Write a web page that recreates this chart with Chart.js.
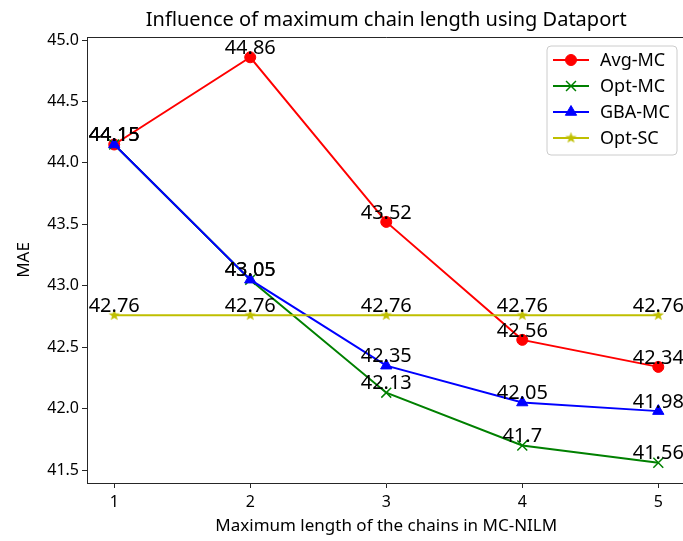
<!DOCTYPE html>
<html>
<head>
<meta charset="utf-8">
<script src="https://cdn.jsdelivr.net/npm/chart.js@4.4.0/dist/chart.umd.min.js"></script>
<style>
html,body{margin:0;padding:0;background:#fff;overflow:hidden;width:683px;height:541px;}
canvas{display:block;}
</style>
</head>
<body>
<canvas id="c" width="694" height="541"></canvas>
<script>
// ---- data ----
const categories = [1, 2, 3, 4, 5];
const avgMC = [44.15, 44.86, 43.52, 42.56, 42.34];
const optMC = [44.15, 43.05, 42.13, 41.7, 41.56];
const gbaMC = [44.15, 43.05, 42.35, 42.05, 41.98];
const optSC = [42.76, 42.76, 42.76, 42.76, 42.76];
const seriesNames = ['Avg-MC', 'Opt-MC', 'GBA-MC', 'Opt-SC'];
const yTicks = [41.5, 42.0, 42.5, 43.0, 43.5, 44.0, 44.5, 45.0];

const FONT = "'Noto Sans', 'Open Sans', sans-serif";
const AX = '#262626';

// filled five-point star marker
function makeStar(color, size) {
  const c = document.createElement('canvas');
  c.width = size; c.height = size;
  const g = c.getContext('2d');
  const cx = size / 2, cy = size / 2, R = size / 2 - 0.5, r = R * 0.4;
  g.beginPath();
  for (let i = 0; i < 10; i++) {
    const rad = (i % 2 === 0) ? R : r;
    const a = -Math.PI / 2 + i * Math.PI / 5;
    const px = cx + rad * Math.cos(a), py = cy + rad * Math.sin(a);
    if (i === 0) g.moveTo(px, py); else g.lineTo(px, py);
  }
  g.closePath();
  g.fillStyle = color;
  g.fill();
  return c;
}
const starImg = makeStar('#bfbf00', 13);

const toPts = arr => categories.map((x, i) => ({x: x, y: arr[i]}));

const styles = [
  {color: '#ff0000', pointStyle: 'circle', radius: 5.5, bw: 1},
  {color: '#008000', pointStyle: 'crossRot', radius: 7, bw: 1.5},
  {color: '#0000ff', pointStyle: 'triangle', radius: 6.5, bw: 1},
  {color: '#bfbf00', pointStyle: starImg, radius: 6.5, bw: 1}
];
const values = [avgMC, optMC, gbaMC, optSC];

const datasets = values.map((v, i) => ({
  label: seriesNames[i],
  data: toPts(v),
  borderColor: styles[i].color,
  backgroundColor: styles[i].color,
  pointBackgroundColor: styles[i].color,
  pointBorderColor: styles[i].color,
  pointStyle: styles[i].pointStyle,
  pointRadius: styles[i].radius,
  pointHoverRadius: styles[i].radius,
  pointBorderWidth: styles[i].bw,
  borderWidth: 2,
  tension: 0,
  fill: false,
  order: 4 - i
}));

const framePlugin = {
  id: 'frame',
  afterDraw(chart) {
    const {ctx, chartArea: a} = chart;
    ctx.save();
    ctx.strokeStyle = AX;
    ctx.lineWidth = 1;
    ctx.beginPath();
    ctx.moveTo(a.left, a.top + 0.5);
    ctx.lineTo(a.right, a.top + 0.5);
    ctx.moveTo(a.right - 0.5, a.top);
    ctx.lineTo(a.right - 0.5, a.bottom);
    ctx.stroke();
    // title
    ctx.fillStyle = '#000';
    ctx.font = "20px " + FONT;
    ctx.textAlign = 'center';
    ctx.textBaseline = 'alphabetic';
    ctx.fillText('Influence of maximum chain length using Dataport', (a.left + a.right) / 2, 26);
    ctx.restore();
  }
};

const labelPlugin = {
  id: 'vlabels',
  afterDatasetsDraw(chart) {
    const ctx = chart.ctx;
    ctx.save();
    ctx.fillStyle = '#000';
    ctx.font = "20px " + FONT;
    ctx.textAlign = 'center';
    ctx.textBaseline = 'bottom';
    chart.data.datasets.forEach((ds, i) => {
      const meta = chart.getDatasetMeta(i);
      meta.data.forEach((el, j) => {
        ctx.fillText(String(values[i][j]), el.x, el.y + 1);
      });
    });
    ctx.restore();
  }
};

const legendPlugin = {
  id: 'mplLegend',
  afterDraw(chart) {
    const ctx = chart.ctx;
    const bx = 547, by = 46, bw = 130, bh = 109, rr = 4;
    ctx.save();
    ctx.beginPath();
    ctx.moveTo(bx + rr, by);
    ctx.arcTo(bx + bw, by, bx + bw, by + bh, rr);
    ctx.arcTo(bx + bw, by + bh, bx, by + bh, rr);
    ctx.arcTo(bx, by + bh, bx, by, rr);
    ctx.arcTo(bx, by, bx + bw, by, rr);
    ctx.closePath();
    ctx.fillStyle = 'rgba(255,255,255,0.8)';
    ctx.fill();
    ctx.strokeStyle = '#cccccc';
    ctx.lineWidth = 1;
    ctx.stroke();
    chart.data.datasets.forEach((ds, i) => {
      const y = 60 + i * 26;
      ctx.strokeStyle = ds.borderColor;
      ctx.lineWidth = 2;
      ctx.beginPath();
      ctx.moveTo(553, y);
      ctx.lineTo(589, y);
      ctx.stroke();
      ctx.fillStyle = ds.pointBackgroundColor;
      ctx.strokeStyle = ds.pointBorderColor;
      ctx.lineWidth = ds.pointBorderWidth;
      Chart.helpers.drawPoint(ctx, {pointStyle: ds.pointStyle, radius: ds.pointRadius, rotation: 0, borderWidth: ds.pointBorderWidth}, 571, y);
      ctx.fillStyle = '#000';
      ctx.font = "18px " + FONT;
      ctx.textAlign = 'left';
      ctx.textBaseline = 'middle';
      ctx.fillText(ds.label, 600, y + 1);
    });
    ctx.restore();
  }
};

new Chart(document.getElementById('c'), {
  type: 'line',
  data: {datasets: datasets},
  options: {
    responsive: false,
    animation: false,
    events: [],
    layout: {padding: {top: 37, left: 0, right: 5, bottom: 0}},
    plugins: {legend: {display: false}, title: {display: false}, tooltip: {enabled: false}},
    scales: {
      x: {
        type: 'linear',
        min: 0.8, max: 5.2,
        afterFit(s) { s.height = 58; },
        afterBuildTicks(s) { s.ticks = categories.map(v => ({value: v})); },
        ticks: {stepSize: 1, includeBounds: false, color: '#000', font: {family: FONT, size: 16}, padding: 5,
                callback: v => String(v)},
        grid: {drawOnChartArea: false, drawTicks: true, tickLength: 5, tickColor: AX, tickWidth: 1},
        border: {display: true, color: AX, width: 1},
        title: {display: true, text: 'Maximum length of the chains in MC-NILM', color: '#000',
                font: {family: FONT, size: 17}, padding: {top: 0, bottom: 5}}
      },
      y: {
        type: 'linear',
        min: 41.395, max: 45.025,
        afterFit(s) { s.width = 87; },
        afterBuildTicks(s) { s.ticks = yTicks.map(v => ({value: v})); },
        ticks: {stepSize: 0.5, includeBounds: false, color: '#000', font: {family: FONT, size: 16}, padding: 3,
                callback: v => Number(v).toFixed(1)},
        grid: {drawOnChartArea: false, drawTicks: true, tickLength: 5, tickColor: AX, tickWidth: 1},
        border: {display: true, color: AX, width: 1},
        title: {display: true, text: 'MAE', color: '#000', font: {family: FONT, size: 17}, padding: {top: 14, bottom: 0}}
      }
    }
  },
  plugins: [labelPlugin, framePlugin, legendPlugin]
});
</script>
</body>
</html>
